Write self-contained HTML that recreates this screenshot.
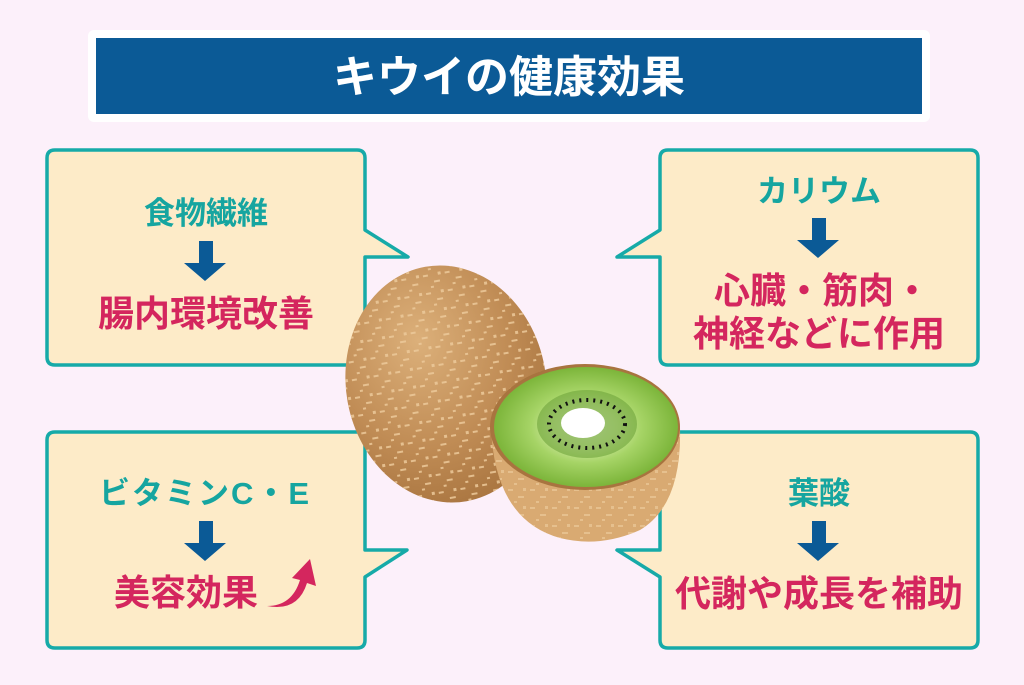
<!DOCTYPE html>
<html><head><meta charset="utf-8"><style>
html,body{margin:0;padding:0;background:#fcf0fa;}
svg{display:block}
text{font-family:"Liberation Sans","Noto Sans CJK JP",sans-serif;font-weight:bold;text-anchor:middle}
</style></head><body>
<svg width="1024" height="685" viewBox="0 0 1024 685">
<defs>
<radialGradient id="sk" cx="0.4" cy="0.3" r="0.75">
<stop offset="0" stop-color="#dcb07a"/><stop offset="0.6" stop-color="#c08c55"/><stop offset="1" stop-color="#a8743f"/>
</radialGradient>
<radialGradient id="fl" cx="0.5" cy="0.5" r="0.5">
<stop offset="0" stop-color="#eaf6d0"/><stop offset="0.35" stop-color="#cfe8a0"/><stop offset="0.6" stop-color="#a6d466"/><stop offset="1" stop-color="#7cb53a"/>
</radialGradient>
<pattern id="sp" width="22" height="18" patternUnits="userSpaceOnUse">
<rect x="2" y="3" width="5" height="2" fill="#ecc99a"/><rect x="12" y="10" width="6" height="2" fill="#ecc99a"/><rect x="8" y="15" width="3" height="2" fill="#ecc99a"/><rect x="17" y="2" width="3" height="3" fill="#ecc99a"/>
</pattern>
</defs>
<rect x="88" y="30" width="842" height="92" rx="6" fill="#fff"/>
<rect x="96" y="38" width="826" height="76" fill="#0b5a96"/>
<text x="509" y="92" font-size="44" fill="#fff">キウイの健康効果</text>

<g fill="#fdebc8" stroke="#16aaa8" stroke-width="3.5" stroke-linejoin="round">
<path d="M55 150 H357 Q365 150 365 158 V230 L408 257 H365 V357 Q365 365 357 365 H55 Q47 365 47 357 V158 Q47 150 55 150Z"/>
<path d="M668 150 H970 Q978 150 978 158 V357 Q978 365 970 365 H668 Q660 365 660 357 V257 H617 L660 230 V158 Q660 150 668 150Z"/>
<path d="M55 432 H357 Q365 432 365 440 V550 H407 L365 577 V640 Q365 648 357 648 H55 Q47 648 47 640 V440 Q47 432 55 432Z"/>
<path d="M668 432 H970 Q978 432 978 440 V640 Q978 648 970 648 H668 Q660 648 660 640 V577 L617 550 H660 V440 Q660 432 668 432Z"/>
</g>

<g fill="#0b5a96">
<path d="M199 241H213V263H226L205 281L184 263H199Z"/>
<path d="M812 218H826V240H839L818 258L797 240H812Z"/>
<path d="M199 521H213V543H226L205 561L184 543H199Z"/>
<path d="M812 521H826V543H839L818 561L797 543H812Z"/>
</g>
<g fill="#16a5a0" font-size="31">
<text x="206" y="224">食物繊維</text>
<text x="819" y="202">カリウム</text>
<text x="205" y="504" letter-spacing="2">ビタミンC・E</text>
<text x="819" y="504">葉酸</text>
</g>
<g fill="#d4265e" font-size="36">
<text x="206" y="326">腸内環境改善</text>
<text x="822" y="303">心臓・筋肉・</text>
<text x="819" y="346">神経などに作用</text>
<text x="186" y="605">美容効果</text>
<text x="819" y="606">代謝や成長を補助</text>
</g>
<path d="M267 606 Q292 606 300 580 L292 578 L310 559 L316 586 L307 583 Q298 612 267 606Z" fill="#d4265e"/>

<g>
<ellipse cx="446" cy="384" rx="100" ry="119" transform="rotate(-10 446 384)" fill="url(#sk)"/>
<ellipse cx="446" cy="384" rx="100" ry="119" transform="rotate(-10 446 384)" fill="url(#sp)" opacity="0.85"/>
</g>
<g>
<path d="M491 428 Q495 520 560 538 Q600 548 640 530 Q682 505 680 428Z" fill="#d9aa72"/>
<path d="M491 428 Q495 520 560 538 Q600 548 640 530 Q682 505 680 428Z" fill="url(#sp)" opacity="0.7"/>
<ellipse cx="585" cy="427" rx="95" ry="63" fill="#a8743f"/>
<ellipse cx="586" cy="427" rx="92" ry="60" fill="url(#fl)"/>
<ellipse cx="587" cy="424" rx="50" ry="34" fill="#6ea43a" opacity="0.6"/>
<ellipse cx="587" cy="424" rx="38" ry="24" fill="none" stroke="#111" stroke-width="4" stroke-dasharray="2 5"/>
<ellipse cx="583" cy="423" rx="22" ry="15" fill="#fff"/>
</g>
</svg>
</body></html>
